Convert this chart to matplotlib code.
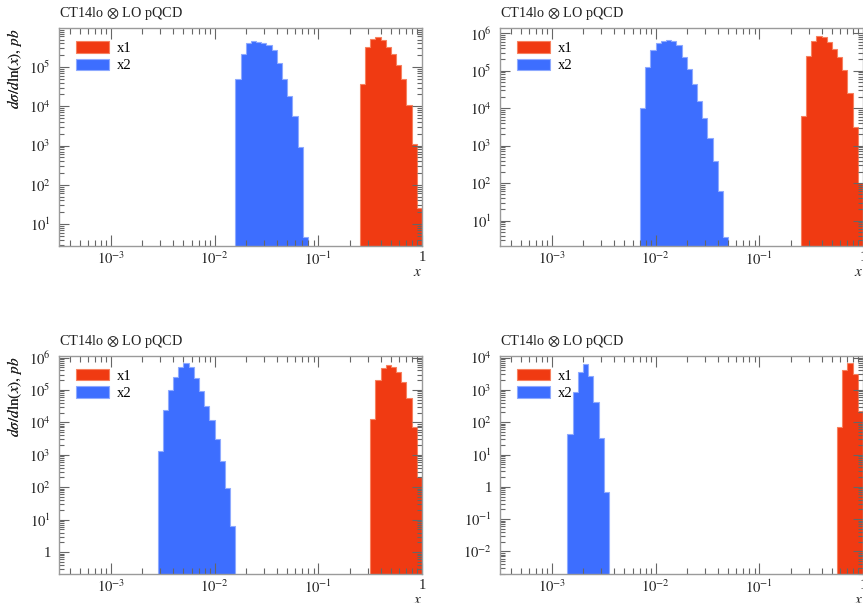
import numpy as np
import matplotlib
matplotlib.use("Agg")
import matplotlib.pyplot as plt
from matplotlib.patches import Patch
from matplotlib.ticker import LogLocator, FuncFormatter, NullFormatter

plt.rcParams['font.family'] = 'serif'
plt.rcParams['font.serif'] = ['Liberation Serif', 'DejaVu Serif']
plt.rcParams['mathtext.fontset'] = 'stix'

# bin width in log10(x) (20 bins per decade)
bin_dlog = 0.05

# top left
tl_x1_start = -0.6
tl_x1 = [3.8e4, 3.2e5, 5.2e5, 5.8e5, 4.8e5, 3.2e5, 2.2e5, 1.12e5, 5.0e4, 1.05e4, 1.1e3, 25]
tl_x2_start = -1.8
tl_x2 = [5.0e4, 2.2e5, 4.0e5, 4.5e5, 4.4e5, 4.0e5, 3.7e5, 2.75e5, 1.23e5, 4.9e4, 1.8e4, 5.8e3, 930, 4.8]

# top right
tr_x1_start = -0.6
tr_x1 = [6.2e3, 2.5e5, 6.3e5, 8.3e5, 7.8e5, 6.0e5, 3.9e5, 2.3e5, 1.02e5, 2.5e4, 3.2e3, 100]
tr_x2_start = -2.15
tr_x2 = [1.04e4, 1.26e5, 3.5e5, 5.6e5, 6.3e5, 6.5e5, 6.2e5, 4.9e5, 2.4e5, 1.12e5, 4.4e4,
         1.6e4, 5.6e3, 1.6e3, 380, 62, 3.6]

# bottom left
bl_x1_start = -0.5
bl_x1 = [1.3e4, 2.1e5, 4.7e5, 6.0e5, 5.1e5, 3.5e5, 1.8e5, 5.5e4, 7.2e3, 210]
bl_x2_start = -2.55
bl_x2 = [1.3e3, 2.5e4, 9.8e4, 2.6e5, 5.0e5, 6.8e5, 5.0e5, 2.3e5, 9.3e4, 3.2e4, 1.2e4,
         3.0e3, 630, 93, 6.2]

# bottom right
br_x1_start = -0.25
br_x1 = [69, 4.1e3, 6.8e3, 3.2e3, 230]
br_x2_start = -2.85
br_x2 = [42, 870, 3.7e3, 6.3e3, 2.6e3, 420, 33, 0.69]

ylims = [(2.75, 9.7e5), (2.1, 1.36e6), (0.21, 1.12e6), (0.002, 1.12e4)]
xlim = (10 ** -3.5, 1.0)

title = r'CT14lo $\otimes$ LO pQCD'
ylabel = r'$d\sigma/d\ln(x),\, pb$'

red = '#f03a12'
red_edge = '#f7815f'
blue = '#3d6eff'
blue_edge = '#8eaaff'

panels = [
    (tl_x1_start, tl_x1, tl_x2_start, tl_x2),
    (tr_x1_start, tr_x1, tr_x2_start, tr_x2),
    (bl_x1_start, bl_x1, bl_x2_start, bl_x2),
    (br_x1_start, br_x1, br_x2_start, br_x2),
]

W, H = 863.0, 603.0
# axes boxes in pixels: left, top, right, bottom
boxes = [(59, 28.3, 422, 246), (500, 28.3, 863, 246),
         (59, 356, 422, 574), (500, 356, 863, 574)]


def edges(start, n):
    return 10 ** (start + bin_dlog * np.arange(n + 1))


def fmt(v, pos):
    e = int(round(np.log10(v)))
    if e == 0:
        return '1'
    return r'$10^{%d}$' % e


fig = plt.figure(figsize=(8.63, 6.03), dpi=100)

for i, (s1, v1, s2, v2) in enumerate(panels):
    l, t, r, b = boxes[i]
    ax = fig.add_axes([l / W, 1 - b / H, (r - l) / W, (b - t) / H])
    ax.stairs(v2, edges(s2, len(v2)), fill=True, facecolor=blue, edgecolor=blue_edge,
              linewidth=0.8, baseline=ylims[i][0] * 1e-3)
    ax.stairs(v1, edges(s1, len(v1)), fill=True, facecolor=red, edgecolor=red_edge,
              linewidth=0.8, baseline=ylims[i][0] * 1e-3)
    ax.set_xscale('log')
    ax.set_yscale('log')
    ax.set_xlim(*xlim)
    ax.set_ylim(*ylims[i])

    for ax_ in (ax.xaxis, ax.yaxis):
        ax_.set_major_locator(LogLocator(base=10, numticks=20))
        ax_.set_minor_locator(LogLocator(base=10, subs=np.arange(2, 10), numticks=20))
        ax_.set_major_formatter(FuncFormatter(fmt))
        ax_.set_minor_formatter(NullFormatter())

    ax.tick_params(which='both', direction='in', top=True, right=True, color='#666666',
                   width=0.8, labelsize=10.5, labelcolor='#222222')
    ax.tick_params(axis='x', which='major', length=8, pad=3.5)
    ax.tick_params(axis='x', which='minor', length=4)
    ax.tick_params(axis='y', which='major', length=7.5, pad=6)
    ax.tick_params(axis='y', which='minor', length=3.5)
    for sp in ax.spines.values():
        sp.set_color('#9a9a9a')
        sp.set_linewidth(1.0)

    fig.text(l / W, 1 - 13.5 / H if i < 2 else 1 - 341.5 / H, title,
             fontsize=10.3, ha='left', va='center', color='#222222')
    fig.text(14 / W, 1 - t / H, ylabel, rotation=90, fontsize=11,
             ha='center', va='top', color='#222222')
    ax.text(1.0, -27 / (b - t), r'$x$', transform=ax.transAxes, ha='right',
            va='center', fontsize=11, color='#222222')

    handles = [Patch(facecolor=red, edgecolor=red_edge, linewidth=0.8, label='x1'),
               Patch(facecolor=blue, edgecolor=blue_edge, linewidth=0.8, label='x2')]
    ax.legend(handles=handles, loc='upper left', bbox_to_anchor=(0.046, 0.94),
              frameon=False, fontsize=10.5, handlelength=2.3, handleheight=0.8,
              labelspacing=0.25, handletextpad=0.5, borderpad=0, borderaxespad=0)

fig.savefig('out.png', dpi=100)
